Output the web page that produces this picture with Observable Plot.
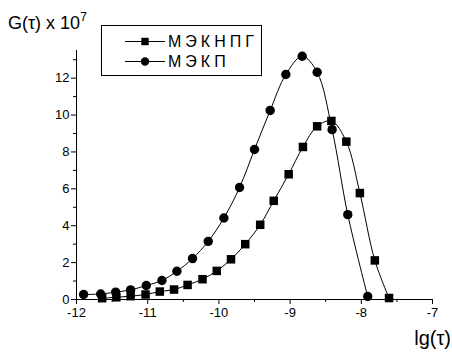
<!DOCTYPE html>
<html>
<head>
<meta charset="utf-8">
<script src="https://cdn.jsdelivr.net/npm/d3@7"></script>
<script src="https://cdn.jsdelivr.net/npm/@observablehq/plot@0.6"></script>
<style>
  html, body { margin: 0; padding: 0; background: #fff; }
</style>
</head>
<body>
<div id="chart"></div>
<script>
// Series МЭКНПГ (squares)
const squareX = [-11.64, -11.44, -11.24, -11.03, -10.83, -10.63, -10.44, -10.23, -10.03, -9.83, -9.63, -9.42, -9.23, -9.02, -8.82, -8.62, -8.42, -8.21, -8.02, -7.81, -7.61];
const squareY = [0.07, 0.12, 0.18, 0.27, 0.43, 0.54, 0.79, 1.10, 1.55, 2.18, 3.00, 4.05, 5.35, 6.79, 8.27, 9.39, 9.68, 8.56, 5.77, 2.12, 0.08];
// Series МЭКП (circles)
const circleX = [-11.90, -11.66, -11.45, -11.24, -11.02, -10.80, -10.59, -10.37, -10.15, -9.93, -9.71, -9.50, -9.28, -9.06, -8.83, -8.62, -8.41, -8.19, -7.91];
const circleY = [0.27, 0.30, 0.40, 0.52, 0.76, 1.03, 1.53, 2.22, 3.15, 4.42, 6.07, 8.13, 10.25, 12.20, 13.19, 12.32, 9.21, 4.60, 0.16];

const seriesNames = ["МЭКНПГ", "МЭКП"];
const xTicks = [-12, -11, -10, -9, -8, -7];
const xMinorTicks = [-11.5, -10.5, -9.5, -8.5, -7.5];
const yTicks = [0, 2, 4, 6, 8, 10, 12];
const yMinorTicks = [1, 3, 5, 7, 9, 11, 13];
const xDomain = [-12, -7];
const yDomain = [0, 13.5];
const titleText = "G(τ) x 10";
const titleExp = "7";
const xLabel = "lg(τ)";

const squares = squareX.map((x, i) => ({x, y: squareY[i]}));
const circles = circleX.map((x, i) => ({x, y: circleY[i]}));

const svg = Plot.plot({
  width: 452,
  height: 352,
  marginLeft: 76,
  marginRight: 20,
  marginTop: 50,
  marginBottom: 53,
  style: {fontFamily: "'Liberation Sans', Arial, sans-serif", fontSize: "13px", background: "#fff", color: "#000"},
  x: {domain: xDomain},
  y: {domain: yDomain},
  marks: [
    Plot.axisX({ticks: xTicks, tickSize: 5, tickPadding: 3, label: null, fontSize: 13, tickFormat: d => String(d).replace("−", "-")}),
    Plot.axisX({ticks: xMinorTicks, tickSize: 3, label: null, tickFormat: () => ""}),
    Plot.axisY({ticks: yTicks, tickSize: 5, tickPadding: 2, label: null, fontSize: 13}),
    Plot.axisY({ticks: yMinorTicks, tickSize: 3, label: null, tickFormat: () => ""}),
    Plot.ruleX([xDomain[0]], {y1: yDomain[0], y2: yDomain[1], stroke: "#000"}),
    Plot.ruleY([0], {x1: xDomain[0], x2: xDomain[1], stroke: "#000"}),
    Plot.line(squares, {x: "x", y: "y", curve: "catmull-rom", stroke: "#000", strokeWidth: 1}),
    Plot.line(circles, {x: "x", y: "y", curve: "catmull-rom", stroke: "#000", strokeWidth: 1}),
    Plot.dot(squares, {x: "x", y: "y", symbol: "square", r: 4.8, fill: "#000", stroke: "none"}),
    Plot.dot(circles, {x: "x", y: "y", symbol: "circle", r: 4.7, fill: "#000", stroke: "none"})
  ]
});

document.getElementById("chart").appendChild(svg);

const s = d3.select(svg);
const ff = "'Liberation Sans', Arial, sans-serif";

// Title (y-axis label)
const t = s.append("text")
  .attr("x", 8).attr("y", 29)
  .attr("text-anchor", "start")
  .attr("font-family", ff).attr("font-size", 18).attr("fill", "#000");
t.append("tspan").text(titleText);
t.append("tspan").attr("dy", -8).attr("font-size", 12).text(titleExp);

// x-axis label
s.append("text")
  .attr("x", 451).attr("y", 345)
  .attr("text-anchor", "end")
  .attr("font-family", ff).attr("font-size", 20).attr("fill", "#000")
  .text(xLabel);

// Legend
const lg = s.append("g").attr("text-anchor", "start");
lg.append("rect")
  .attr("x", 101.5).attr("y", 25.5).attr("width", 160).attr("height", 50)
  .attr("fill", "#fff").attr("stroke", "#000").attr("stroke-width", 1);
const rows = [
  {name: seriesNames[0], y: 41.5, sym: d3.symbolSquare, size: 55},
  {name: seriesNames[1], y: 61.5, sym: d3.symbolCircle, size: 55}
];
rows.forEach(r => {
  lg.append("line").attr("x1", 125).attr("x2", 165).attr("y1", r.y).attr("y2", r.y)
    .attr("stroke", "#000").attr("stroke-width", 1);
  lg.append("path").attr("d", d3.symbol(r.sym, r.size)())
    .attr("transform", `translate(145,${r.y})`).attr("fill", "#000");
  lg.append("text").attr("x", 168).attr("y", r.y).attr("dy", "0.36em")
    .attr("text-anchor", "start")
    .attr("font-family", ff).attr("font-size", 16).attr("letter-spacing", "4px")
    .attr("fill", "#000").text(r.name);
});
</script>
</body>
</html>
